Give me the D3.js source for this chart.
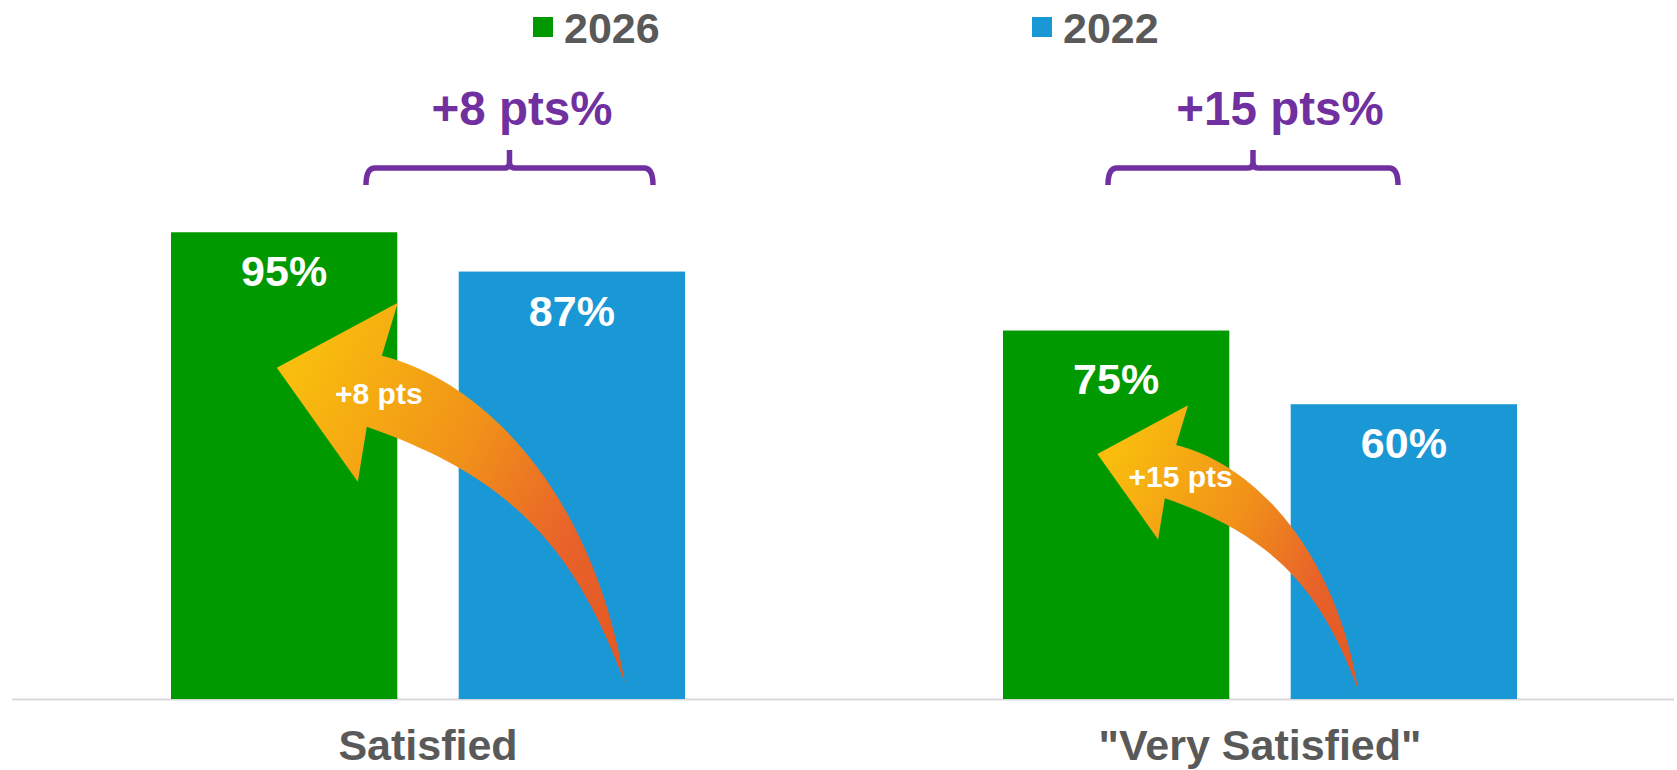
<!DOCTYPE html>
<html>
<head>
<meta charset="utf-8">
<script src="https://cdn.jsdelivr.net/npm/d3@7/dist/d3.min.js"></script>
<style>
  html, body { margin: 0; padding: 0; background: #ffffff; }
  svg { display: block; }
  text { font-family: "Liberation Sans", Arial, Helvetica, sans-serif; font-weight: bold; }
</style>
</head>
<body>
<div id="chart"></div>
<script>
// ---------- data ----------
const categories = ["Satisfied", "\"Very Satisfied\""];
const seriesNames = ["2026", "2022"];
const values2026 = [95, 75];
const values2022 = [87, 60];
const seriesColors = ["#009900", "#1A97D5"];
const changeLabels = ["+8 pts%", "+15 pts%"];
const arrowLabels = ["+8 pts", "+15 pts"];

// ---------- layout ----------
const W = 1677, H = 770;
const svg = d3.select("#chart").append("svg").attr("width", W).attr("height", H);

const x0 = d3.scaleBand().domain(categories).range([12, 1676]).paddingInner(0.3822).paddingOuter(0.1911);
const x1 = d3.scaleBand().domain(seriesNames).range([0, x0.bandwidth()]).paddingInner(0.2134).paddingOuter(0);
const y = d3.scaleLinear().domain([0, 100]).range([699, 207.7]);
const color = d3.scaleOrdinal().domain(seriesNames).range(seriesColors);

const rows = categories.map((c, i) => ({
  cat: c,
  vals: [{ s: "2026", v: values2026[i] }, { s: "2022", v: values2022[i] }]
}));

// gradient for arrows
const defs = svg.append("defs");
const grad = defs.append("linearGradient").attr("id", "arrowGrad")
  .attr("x1", "0").attr("y1", "0.25").attr("x2", "1").attr("y2", "0.85");
grad.append("stop").attr("offset", "0").attr("stop-color", "#F9BE0D");
grad.append("stop").attr("offset", "0.45").attr("stop-color", "#F19219");
grad.append("stop").attr("offset", "0.78").attr("stop-color", "#E8622A");
grad.append("stop").attr("offset", "1").attr("stop-color", "#E45A24");

// axis baseline
svg.append("line")
  .attr("x1", 12).attr("x2", 1674)
  .attr("y1", y(0) + 0.5).attr("y2", y(0) + 0.5)
  .attr("stroke", "#D9D9D9").attr("stroke-width", 2);

// bars
const groups = svg.selectAll("g.grp").data(rows).join("g")
  .attr("class", "grp")
  .attr("transform", d => `translate(${x0(d.cat)},0)`);

groups.selectAll("rect").data(d => d.vals).join("rect")
  .attr("x", d => x1(d.s))
  .attr("y", d => y(d.v))
  .attr("width", x1.bandwidth())
  .attr("height", d => y(0) - y(d.v))
  .attr("fill", d => color(d.s));

// value labels
groups.selectAll("text.val").data(d => d.vals.map(v => ({ ...v, cat: d.cat }))).join("text")
  .attr("class", "val")
  .attr("x", d => x1(d.s) + x1.bandwidth() / 2)
  .attr("y", d => y(d.v) + (d.cat === categories[1] && d.s === "2026" ? 63 : 54))
  .attr("text-anchor", "middle")
  .attr("fill", "#ffffff")
  .attr("font-size", 43)
  .text(d => d.v + "%");

// category labels
svg.selectAll("text.cat").data(categories).join("text")
  .attr("class", "cat")
  .attr("x", d => x0(d) + x0.bandwidth() / 2)
  .attr("y", 760)
  .attr("text-anchor", "middle")
  .attr("fill", "#595959")
  .attr("font-size", 43)
  .text(d => d);

// legend
const legendX = [533, 1032];
const lg = svg.selectAll("g.leg").data(seriesNames).join("g")
  .attr("class", "leg")
  .attr("transform", (d, i) => `translate(${legendX[i]},0)`);
lg.append("rect").attr("x", 0).attr("y", 17).attr("width", 20).attr("height", 20)
  .attr("fill", d => color(d));
lg.append("text").attr("x", 31).attr("y", 43)
  .attr("fill", "#595959").attr("font-size", 43).text(d => d);

// braces with change labels
const braceSpan = [[195, 482], [105, 395]];   // offsets from group start
const braceLabelX = [351, 277];               // label centre offset from group start
svg.selectAll("g.brace").data(categories).join("g")
  .attr("class", "brace")
  .each(function (c, i) {
    const g = d3.select(this);
    const gx = x0(c);
    const a = gx + braceSpan[i][0], b = gx + braceSpan[i][1], m = (a + b) / 2;
    const yl = 168, ye = 185, yt = 150, r = 9;
    const p = d3.path();
    p.moveTo(a, ye);
    p.quadraticCurveTo(a, yl, a + r, yl);
    p.lineTo(m - 5, yl);
    p.quadraticCurveTo(m, yl, m, yl - 6);
    p.lineTo(m, yt);
    p.moveTo(m, yl - 6);
    p.quadraticCurveTo(m, yl, m + 5, yl);
    p.lineTo(b - r, yl);
    p.quadraticCurveTo(b, yl, b, ye);
    g.append("path").attr("d", p.toString())
      .attr("fill", "none").attr("stroke", "#7030A0")
      .attr("stroke-width", 5.5).attr("stroke-linejoin", "round");
    g.append("text").attr("x", gx + braceLabelX[i]).attr("y", 125)
      .attr("text-anchor", "middle").attr("fill", "#7030A0")
      .attr("font-size", 47.5).text(changeLabels[i]);
  });

// curved arrows (from 2022 bar to 2026 bar)
const arrowTailFrac = [0.734, 0.299];   // position across the 2022 bar
const arrowTailVal = [3.3, 1.8];        // height of the tail above zero
const arrowScale = [1, 0.75];
const arrowLabelOff = [[-246, -279], [-237, -271]];

function arrowPath() {
  const p = d3.path();
  p.moveTo(0, 0);
  p.bezierCurveTo(-30, -180, -133, -299.5, -243, -327);   // upper edge to notch
  p.lineTo(-227, -380);                                   // upper barb
  p.lineTo(-348, -315);                                   // tip
  p.lineTo(-267, -201);                                   // lower barb
  p.lineTo(-258, -256);                                   // lower notch
  p.bezierCurveTo(-118, -207, -51.8, -140, 0, 0);         // lower edge back to tail
  p.closePath();
  return p.toString();
}

svg.selectAll("g.arrow").data(categories).join("g")
  .attr("class", "arrow")
  .each(function (c, i) {
    const tx = x0(c) + x1("2022") + x1.bandwidth() * arrowTailFrac[i];
    const ty = y(arrowTailVal[i]);
    const s = arrowScale[i];
    const g = d3.select(this);
    g.append("path")
      .attr("d", arrowPath())
      .attr("transform", `translate(${tx},${ty}) scale(${s})`)
      .attr("fill", "url(#arrowGrad)");
    g.append("text")
      .attr("x", tx + arrowLabelOff[i][0] * s)
      .attr("y", ty + arrowLabelOff[i][1] * s)
      .attr("text-anchor", "middle")
      .attr("fill", "#ffffff")
      .attr("font-size", 30)
      .text(arrowLabels[i]);
  });
</script>
</body>
</html>
